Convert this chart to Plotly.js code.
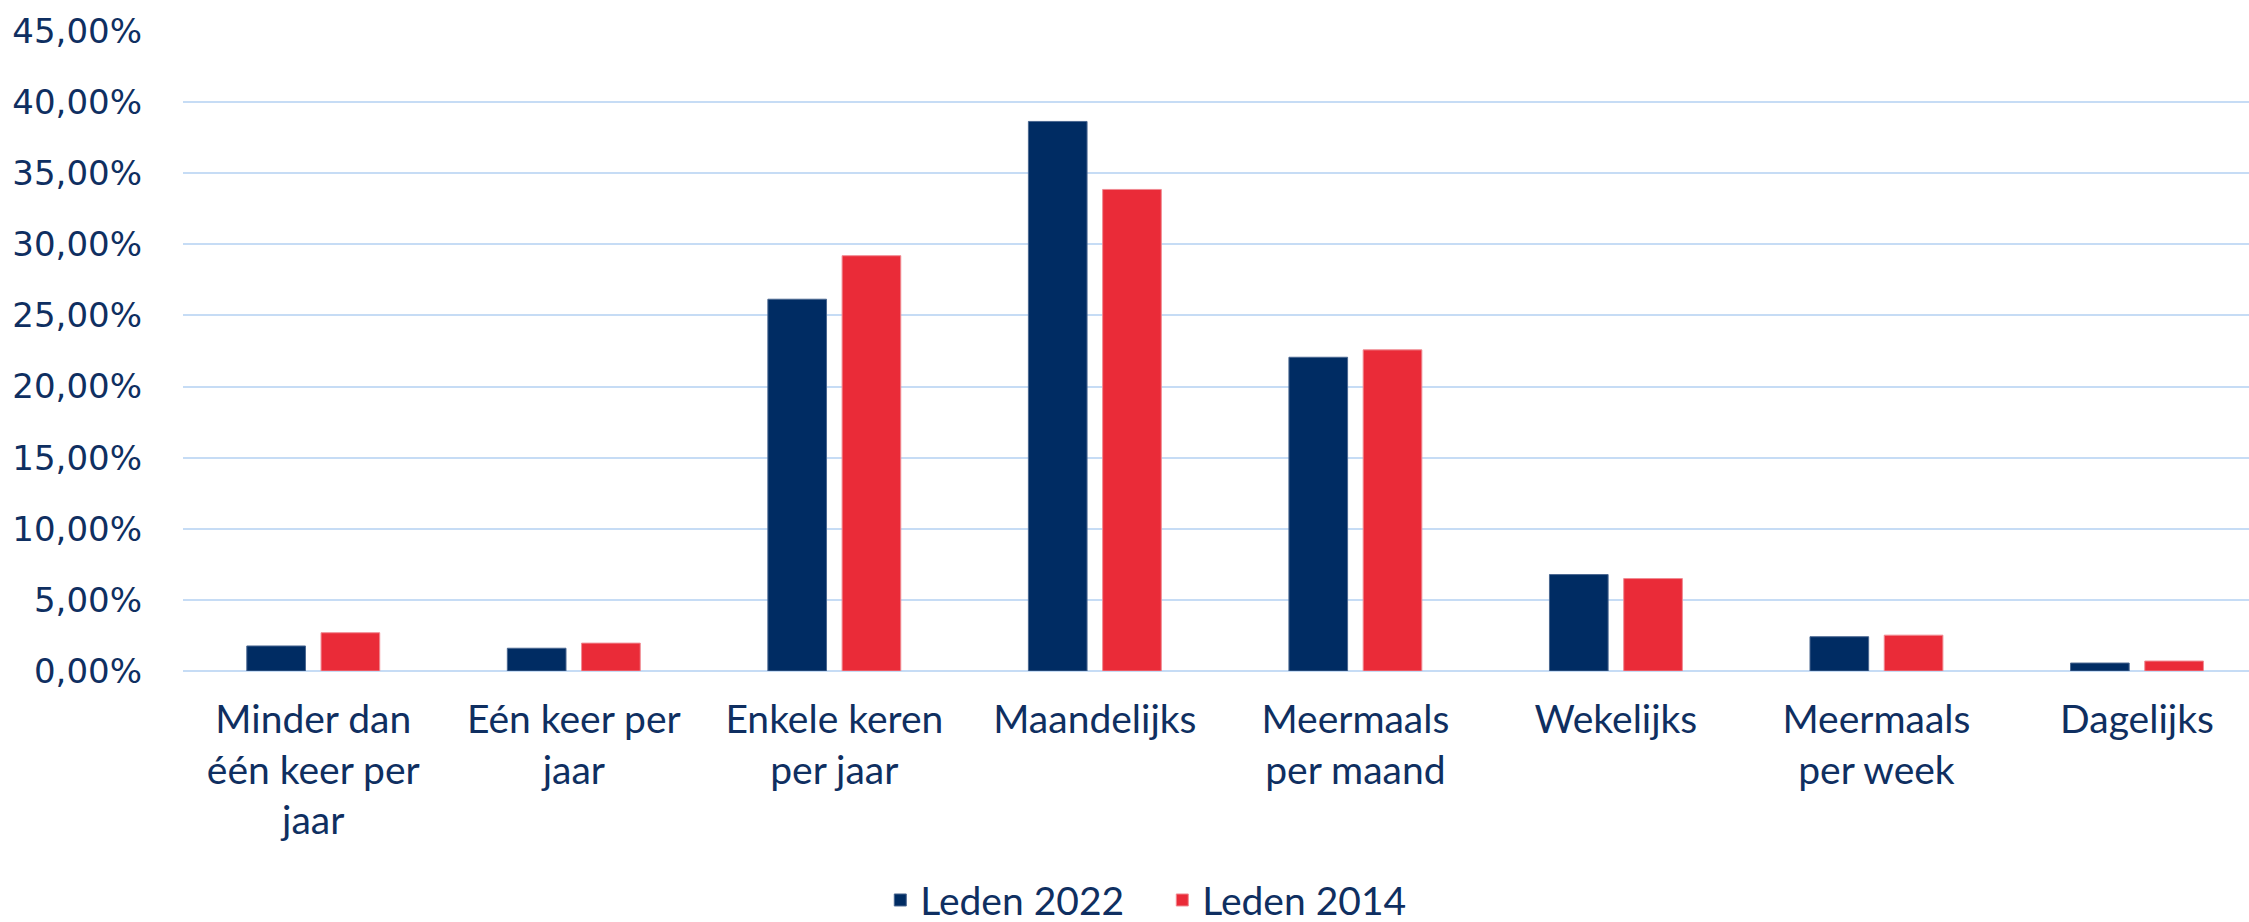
<!DOCTYPE html>
<html>
<head>
<meta charset="utf-8">
<script src="https://cdn.plot.ly/plotly-3.0.1.min.js"></script>
<style>
  html, body { margin: 0; padding: 0; background: #ffffff; }
  #chart { width: 2249px; height: 922px; }
</style>
</head>
<body>
<div id="chart"></div>
<script>
const categories = [
  "Minder dan<br>één keer per<br>jaar",
  "Eén keer per<br>jaar",
  "Enkele keren<br>per jaar",
  "Maandelijks",
  "Meermaals<br>per maand",
  "Wekelijks",
  "Meermaals<br>per week",
  "Dagelijks"
];
const leden2022 = [1.76, 1.60, 26.14, 38.64, 22.06, 6.78, 2.41, 0.56];
const leden2014 = [2.69, 1.96, 29.20, 33.86, 22.58, 6.50, 2.52, 0.70];
const seriesNames = ["Leden 2022", "Leden 2014"];
const yTicks = [0, 5, 10, 15, 20, 25, 30, 35, 40, 45];
const yTickLabels = ["0,00%", "5,00%", "10,00%", "15,00%", "20,00%", "25,00%", "30,00%", "35,00%", "40,00%", "45,00%"];

const navy = "#002c63";
const red = "#ea2b38";
const textColor = "#0f2f61";
const gridColor = "#c6dcf5";

const traces = [
  {
    type: "bar", name: seriesNames[0], x: categories, y: leden2022,
    marker: { color: navy, line: { color: "#4a6790", width: 1 } },
    hoverinfo: "skip"
  },
  {
    type: "bar", name: seriesNames[1], x: categories, y: leden2014,
    marker: { color: red, line: { color: "#f08a92", width: 1 } },
    hoverinfo: "skip"
  }
];

const layout = {
  width: 2249, height: 922,
  margin: { l: 183, r: 0, t: 31, b: 251, autoexpand: false },
  paper_bgcolor: "#ffffff",
  plot_bgcolor: "#ffffff",
  barmode: "group",
  bargap: 0.43,
  bargroupgap: 0.21,
  showlegend: true,
  legend: {
    orientation: "h",
    x: 0.474, xanchor: "center",
    y: -0.358, yanchor: "middle",
    font: { family: "Lato, 'Open Sans', sans-serif", size: 39, color: textColor },
    traceorder: "normal",
    itemwidth: 30,
    entrywidth: 237,
    entrywidthmode: "pixels"
  },
  xaxis: {
    type: "category",
    range: [-0.5, 7.43],
    automargin: false,
    showgrid: false,
    showline: false,
    zeroline: false,
    ticks: "",
    ticklabelstandoff: 22,
    tickangle: 0,
    tickfont: { family: "Lato, 'Open Sans', sans-serif", size: 39, color: textColor },
    fixedrange: true
  },
  yaxis: {
    range: [0, 45],
    automargin: false,
    tickmode: "array",
    tickvals: yTicks,
    ticktext: yTickLabels,
    showgrid: true,
    gridcolor: gridColor,
    gridwidth: 2,
    zeroline: true,
    zerolinecolor: gridColor,
    zerolinewidth: 2,
    showline: false,
    ticks: "",
    ticklabelstandoff: 40,
    tickfont: { family: "'DejaVu Sans', Verdana, sans-serif", size: 34, color: textColor },
    fixedrange: true
  }
};

Plotly.newPlot("chart", traces, layout, { staticPlot: true, displayModeBar: false });
</script>
</body>
</html>
